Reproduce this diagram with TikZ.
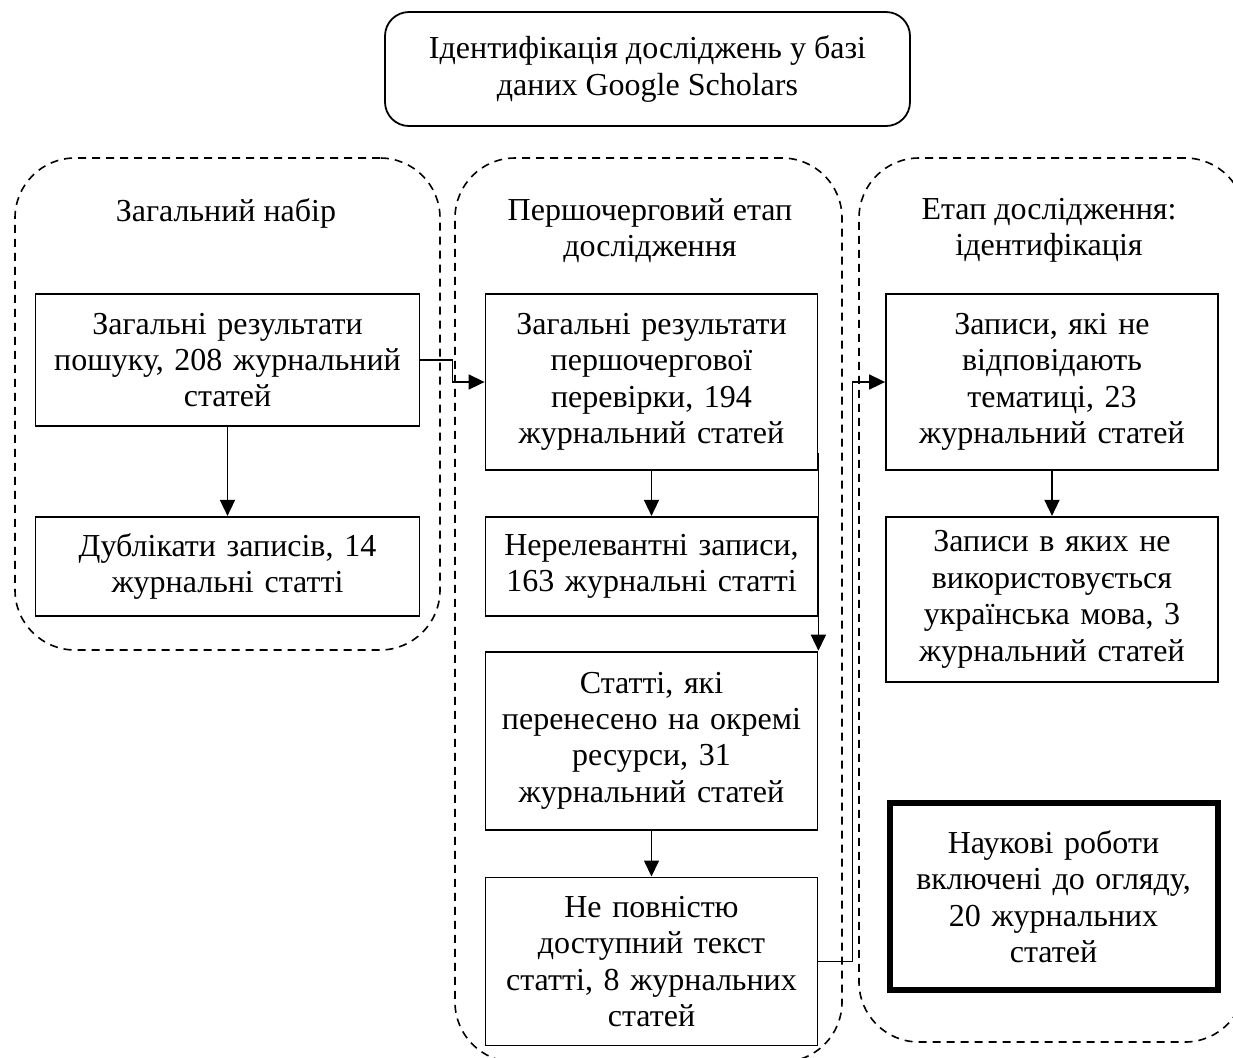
\documentclass[tikz,border=0pt]{standalone}
\usepackage{fontspec}
\setmainfont{Liberation Serif}
\usetikzlibrary{calc, arrows.meta, positioning}

\tikzset{
  wordfont/.style={font=\fontsize{16}{18.2}\selectfont},
  widebox/.style={draw, line width=0.9pt, align=center, inner sep=3pt, text width=186pt, wordfont},
  stagebox/.style={draw, line width=0.9pt, align=center, inner sep=3pt, text width=160pt, wordfont},
  frame/.style={draw, line width=0.8pt, dash pattern=on 4pt off 3pt, rounded corners=30pt},
  title/.style={align=center, wordfont},
  arr/.style={-{Triangle[length=8pt, width=7.5pt]}, line width=0.8pt}
}

\begin{document}
\begin{tikzpicture}[x=0.5pt, y=-0.5pt]

  \def\mygap{22.5pt}
  \useasboundingbox (0,0) rectangle (1233,1057);

  \node (source) [draw, line width=0.9pt, rounded corners=12pt, align=center, minimum width=262.5pt, minimum height=57pt, wordfont] at (647.5,69) {Ідентифікація досліджень у базі\\[0.5pt]даних Google Scholars};

  % dashed groups
  \node (generalset) [frame, minimum width=212.5pt, minimum height=246pt] at (227.5,404) {};
  \node (firststage) [frame, minimum width=193.5pt, minimum height=452pt] at (648.5,610) {};
  \node (identstage) [frame, minimum width=193pt, minimum height=442pt] at (1052,600) {};

  \node (generaltitle) [title] at (226,213) {Загальний набір};
  \node (firsttitle) [title] at (650,230.5) {Першочерговий етап\\дослідження};
  \node (identtitle) [title] at (1049,230.5) {Етап дослідження:\\ідентифікація};

  \node (results) [widebox, minimum height=66pt] at (227.5,360) {Загальні результати\\пошуку, 208 журнальний\\статей};
  \node (duplicates) [widebox, minimum height=49.5pt, below=44.5pt of results] {Дублікати записів, 14\\журнальні статті};

  \node (screened) [stagebox, minimum height=88pt] at (651.5,382) {Загальні результати\\першочергової\\перевірки, 194\\журнальний статей};
  \node (irrelevant) [stagebox, minimum height=49.5pt, below=\mygap of screened] {Нерелевантні записи,\\163 журнальні статті};
  \node (moved) [stagebox, minimum height=89pt, below=17pt of irrelevant] {Статті, які\\перенесено на окремі\\ресурси, 31\\журнальний статей};
  \node (partial) [stagebox, minimum height=84pt, below=23pt of moved] {Не повністю\\доступний текст\\статті, 8 журнальних\\статей};

  \node (offtopic) [stagebox, minimum height=88pt] at (1052,382) {Записи, які не\\відповідають\\тематиці, 23\\журнальний статей};
  \node (language) [stagebox, minimum height=82.5pt, below=\mygap of offtopic] {Записи в яких не\\використовується\\українська мова, 3\\журнальний статей};
  \node (included) [draw, line width=3pt, align=center, inner sep=3pt, text width=158pt, minimum height=93.5pt, wordfont] at (1053.5,896.5) {Наукові роботи\\включені до огляду,\\20 журнальних\\статей};

  \draw[arr] (results) -- (duplicates);
  \draw[arr] (results.east) -- ++(16pt,0) |- (screened.west);
  \draw[arr] (screened) -- (irrelevant);
  \draw[arr] ([yshift=9pt]screened.south east) -- (moved.north east);
  \draw[arr] (moved) -- (partial);
  \draw[arr] (partial.east) -- ++(17pt,0) |- (offtopic.west);
  \draw[arr] (offtopic) -- (language);

\end{tikzpicture}
\end{document}
